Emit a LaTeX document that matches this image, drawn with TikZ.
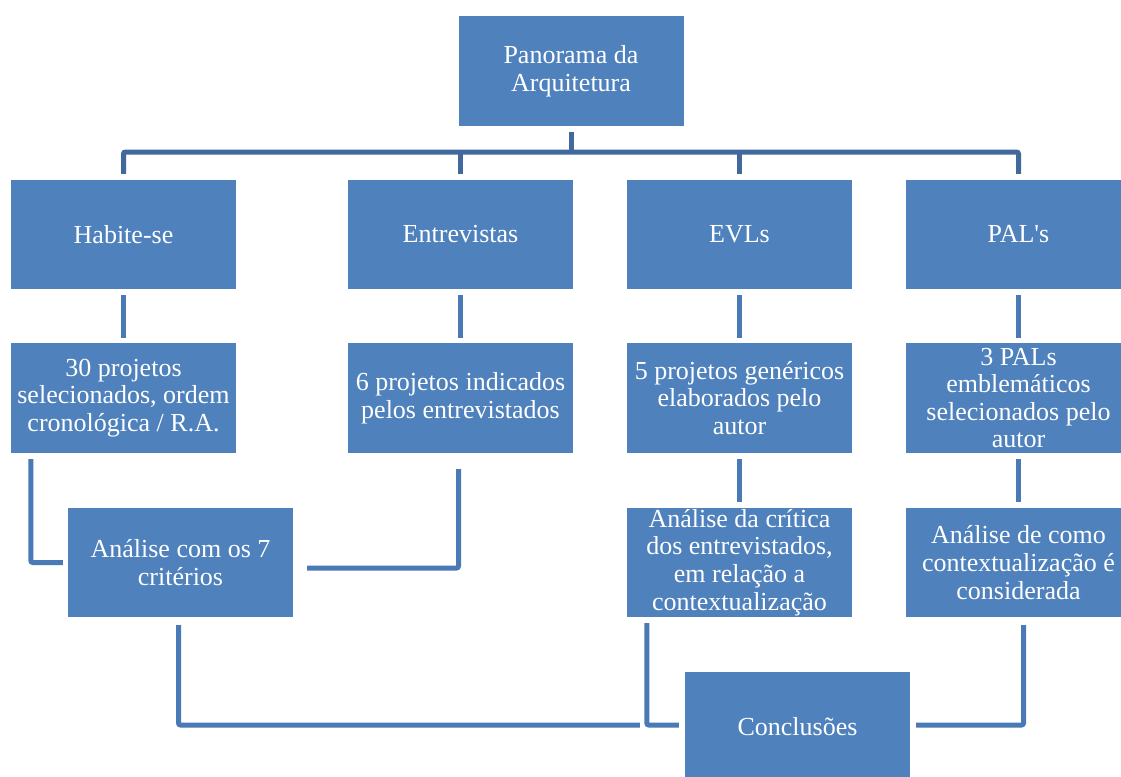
\documentclass[tikz,border=0pt]{standalone}
\usepackage{fontspec}
\setmainfont{Liberation Serif}[Ligatures=TeXOff]
\definecolor{boxblue}{HTML}{4F81BD}
\definecolor{treeline}{HTML}{41699D}
\definecolor{connline}{HTML}{4A7AB6}
\begin{document}
\begin{tikzpicture}[x=1pt,y=-1pt,
  box/.style={fill=boxblue,draw=none,minimum width=225pt,minimum height=110pt,inner sep=0pt,
    text=white,align=center,font=\fontsize{26}{27.6}\selectfont},
  tree/.style={draw=treeline,line width=5pt,rounded corners=2pt},
  conn/.style={draw=connline,line width=5pt,rounded corners=2pt}]
\useasboundingbox (0,0) rectangle (1121,776);
% nodes
\node[box] (top) at (571,71) {Panorama da\\Arquitetura};
\node[box,minimum height=109pt] (hab) at (123.5,234.5) {Habite-se};
\node[box,minimum height=109pt] (ent) at (460.5,234.5) {Entrevistas};
\node[box,minimum height=109pt] (evl) at (739.5,234.5) {EVLs};
\node[box,minimum height=109pt] (pal) at (1018.5,234.5) {PAL's};
\node[box] (hab3) at (123.5,398) {30 projetos\\selecionados, ordem\\cronológica / R.A.};
\node[box] (ent3) at (460.5,398) {6 projetos indicados\\pelos entrevistados};
\node[box] (evl3) at (739.5,398) {5 projetos genéricos\\elaborados pelo\\autor};
\node[box] (pal3) at (1018.5,398) {3 PALs\\emblemáticos\\selecionados pelo\\autor};
\node[box,minimum height=109pt] (ana) at (180.5,562.5) {Análise com os 7\\critérios};
\node[box,minimum height=109pt] (evl4) at (739.5,562.5) {Análise da crítica\\dos entrevistados,\\em relação a\\contextualização};
\node[box,minimum height=109pt] (pal4) at (1018.5,562.5) {Análise de como\\contextualização é\\considerada};
\node[box] (conc) at (797.5,727) {Conclusões};
% helper coordinates
\coordinate (bus) at (0,152);
\coordinate (lvlA) at (0,568);
\coordinate (lvlB) at (0,725);
% tree
\draw[tree] ([yshift=-6pt]top.south) -- (top.south |- bus);
\draw[tree] ([yshift=6pt]hab.north) -- (hab.north |- bus) -- (pal.north |- bus) -- ([yshift=6pt]pal.north);
\draw[tree] (ent.north |- bus) -- ([yshift=6pt]ent.north);
\draw[tree] (evl.north |- bus) -- ([yshift=6pt]evl.north);
% row 2 -> row 3
\draw[conn] ([yshift=-6pt]hab.south) -- ([yshift=5pt]hab3.north);
\draw[conn] ([yshift=-6pt]ent.south) -- ([yshift=5pt]ent3.north);
\draw[conn] ([yshift=-6pt]evl.south) -- ([yshift=5pt]evl3.north);
\draw[conn] ([yshift=-6pt]pal.south) -- ([yshift=5pt]pal3.north);
% row 3 -> row 4
\draw[conn] ([yshift=-6pt]evl3.south) -- ([yshift=6pt]evl4.north);
\draw[conn] ([yshift=-6pt]pal3.south) -- ([yshift=6pt]pal4.north);
\draw[conn] ([xshift=20pt,yshift=-6pt]hab3.south west) -- ([xshift=20pt]hab3.south west |- ana.west) -- ([xshift=-5pt]ana.west);
\draw[conn] ([xshift=-2pt,yshift=-16pt]ent3.south) -- ([xshift=-2pt]ent3.south |- lvlA) -- ([xshift=14pt]ana.east |- lvlA);
% row 4 -> conclusions
\draw[conn] ([xshift=-2pt,yshift=-8pt]ana.south) -- ([xshift=-2pt]ana.south |- lvlB) -- ([xshift=-45pt]conc.west |- lvlB);
\draw[conn] ([xshift=20pt,yshift=-6pt]evl4.south west) -- ([xshift=20pt]evl4.south west |- lvlB) -- ([xshift=-6pt]conc.west |- lvlB);
\draw[conn] ([xshift=5pt,yshift=-8pt]pal4.south) -- ([xshift=5pt]pal4.south |- lvlB) -- ([xshift=6pt]conc.east |- lvlB);
\end{tikzpicture}
\end{document}
